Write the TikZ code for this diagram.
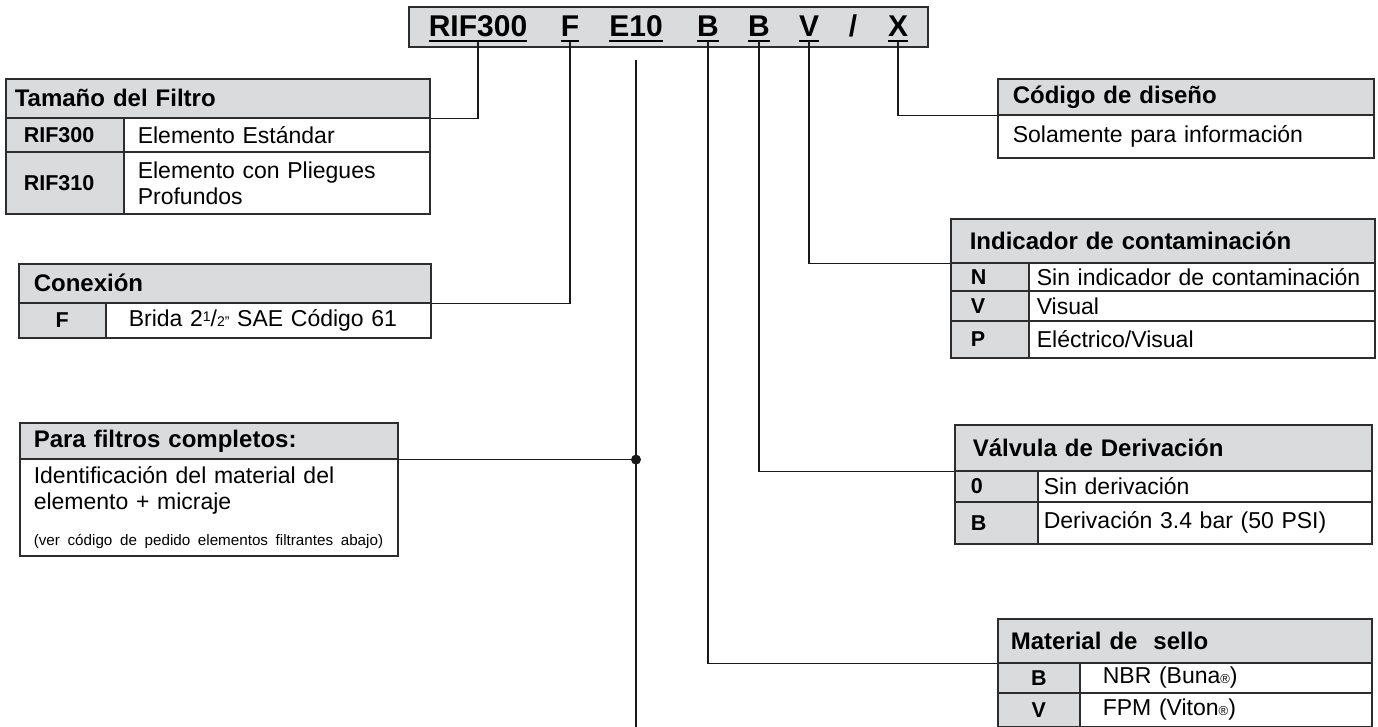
\documentclass[tikz,border=0pt]{standalone}
\usepackage{fontspec}
\setmainfont{Liberation Sans}
\definecolor{hdgray}{RGB}{218,219,221}
\definecolor{framegray}{RGB}{45,45,45}
\newcommand\codefont{\fontsize{30}{32}\selectfont\bfseries}
\newcommand\hdfont{\fontsize{24}{27}\selectfont\bfseries}
\newcommand\keyfont{\fontsize{21.5}{24}\selectfont\bfseries}
\newcommand\txtfont{\fontsize{23}{26}\selectfont}
\newcommand\notefont{\fontsize{15.2}{18}\selectfont}
\newcommand\smallfont{\fontsize{14}{14}\selectfont}
\newcommand\regmark{{\fontsize{13}{13}\selectfont ®}}

\begin{document}
\begin{tikzpicture}[x=1pt, y=-1pt,
        tcell/.style={draw=framegray, line width=1.6pt, anchor=north west,
            inner ysep=0pt, align=left},
        hdcell/.style 2 args={tcell, fill=hdgray, font=\hdfont,
            text width=#1, inner xsep=#2},
        keycell/.style 2 args={tcell, fill=hdgray, font=\keyfont,
            text width=#1, inner xsep=#2},
        desccell/.style 2 args={tcell, fill=white, font=\txtfont,
            text width=#1, inner xsep=#2},
        codechar/.style={anchor=base, inner sep=0pt, font=\codefont},
        conn/.style={draw=black!90, line width=1.6pt},
        uline/.style={line width=1.8pt}]
    \useasboundingbox (0,0) rectangle (1378,727);

    % order code
    \node[draw=framegray, line width=2pt, fill=hdgray, anchor=north west,
        minimum width=519pt, minimum height=40pt, inner sep=0pt] (codebox) at (408,6) {};
    \node[codechar] (crif) at (478,37) {RIF300};
    \node[codechar] (cf) at (570,37) {F};
    \node[codechar] (ce) at (636,37) {E10};
    \node[codechar] (cb1) at (708,37) {B};
    \node[codechar] (cb2) at (759,37) {B};
    \node[codechar] (cv) at (809,37) {V};
    \node[codechar] (cslash) at (853,37) {/};
    \node[codechar] (cx) at (898,37) {X};
    \foreach \c in {crif,cf,ce,cb1,cb2,cv,cx}
        \draw[uline] ([yshift=-4pt]\c.base west) -- ([yshift=-4pt]\c.base east);

    % left side tables
    \node[hdcell={406pt}{9pt}, minimum height=39pt] (sizehd) at (5,78) {Tamaño del Filtro};
    \node[keycell={82pt}{18pt}, minimum height=34pt] (sizek1) at (5,117) {RIF300};
    \node[desccell={278pt}{14pt}, minimum height=34pt] (sized1) at (123,117) {Elemento Estándar};
    \node[keycell={82pt}{18pt}, minimum height=62pt] (sizek2) at (5,151) {RIF310};
    \node[desccell={278pt}{14pt}, minimum height=62pt] (sized2) at (123,151) {Elemento con Pliegues\\Profundos};

    \node[hdcell={382pt}{15pt}, minimum height=39pt] (connhd) at (18,263) {Conexión};
    \node[keycell={87pt}{0pt}, align=center, minimum height=35pt] (connk) at (18,302) {F};
    \node[desccell={279pt}{23pt}, minimum height=35pt] (connd) at (105,302)
        {Brida 2\raisebox{5pt}{\smallfont 1}/{\smallfont 2"} SAE Código 61};

    \node[hdcell={350pt}{14pt}, minimum height=36pt] (fullhd) at (19,422) {Para filtros completos:};
    \node[desccell={350pt}{14pt}, minimum height=97pt] (fullbd) at (19,458)
        {Identificación del material del\\elemento + micraje\\[10pt]
         \mbox{\notefont (ver código de pedido elementos filtrantes abajo)}};

    % right side tables
    \node[hdcell={346pt}{15pt}, minimum height=36pt] (designhd) at (997,78) {Código de diseño};
    \node[desccell={346pt}{15pt}, minimum height=43pt] (designbd) at (997,114) {Solamente para información};

    \node[hdcell={386pt}{19pt}, minimum height=44pt] (indhd) at (950,218) {Indicador de contaminación};
    \node[keycell={38pt}{20pt}, minimum height=28pt] (indk1) at (950,262) {N};
    \node[desccell={330pt}{8pt}, minimum height=28pt] (indd1) at (1028,262) {Sin indicador de contaminación};
    \node[keycell={38pt}{20pt}, minimum height=30pt] (indk2) at (950,290) {V};
    \node[desccell={330pt}{8pt}, minimum height=30pt] (indd2) at (1028,290) {Visual};
    \node[keycell={38pt}{20pt}, minimum height=37pt] (indk3) at (950,320) {P};
    \node[desccell={330pt}{8pt}, minimum height=37pt] (indd3) at (1028,320) {Eléctrico/Visual};

    \node[hdcell={381pt}{18pt}, minimum height=46pt] (bypasshd) at (954,424) {Válvula de Derivación};
    \node[keycell={51pt}{16pt}, minimum height=31pt] (bypk1) at (954,470) {0};
    \node[desccell={322pt}{6pt}, minimum height=31pt] (bypd1) at (1037,470) {Sin derivación};
    \node[keycell={51pt}{16pt}, minimum height=42pt] (bypk2) at (954,501) {B};
    \node[desccell={322pt}{6pt}, minimum height=42pt] (bypd2) at (1037,501) {Derivación 3.4 bar (50 PSI)};

    \node[hdcell={348pt}{13pt}, minimum height=44pt] (sealhd) at (997,618) {Material de \ sello};
    \node[keycell={82pt}{0pt}, align=center, minimum height=30pt] (sealk1) at (997,662) {B};
    \node[desccell={246pt}{23pt}, minimum height=30pt] (seald1) at (1079,662) {NBR (Buna\regmark)};
    \node[keycell={82pt}{0pt}, align=center, minimum height=34pt] (sealk2) at (997,692) {V};
    \node[desccell={246pt}{23pt}, minimum height=34pt] (seald2) at (1079,692) {FPM (Viton\regmark)};

    % connectors
    \draw[conn] ([yshift=-4pt]crif.base) |- (sizehd.south east);
    \draw[conn] ([yshift=-4pt]cf.base) |- (connhd.south east);
    \draw[conn] ([yshift=-4pt]cx.base) |- (designhd.south west);
    \draw[conn] ([yshift=-4pt]cv.base) |- (indhd.south west);
    \draw[conn] ([yshift=-4pt]cb2.base) |- (bypasshd.south west);
    \draw[conn] ([yshift=-4pt]cb1.base) |- (sealhd.south west);

    \coordinate (e10top) at (636,60);
    \coordinate (e10bot) at (636,727);
    \coordinate (e10dot) at (e10top |- fullhd.south);
    \draw[conn] (e10top) -- (e10bot);
    \draw[conn] (fullhd.south east) -- (e10dot);
    \fill[black!90] (e10dot) circle[radius=5pt];
\end{tikzpicture}
\end{document}
